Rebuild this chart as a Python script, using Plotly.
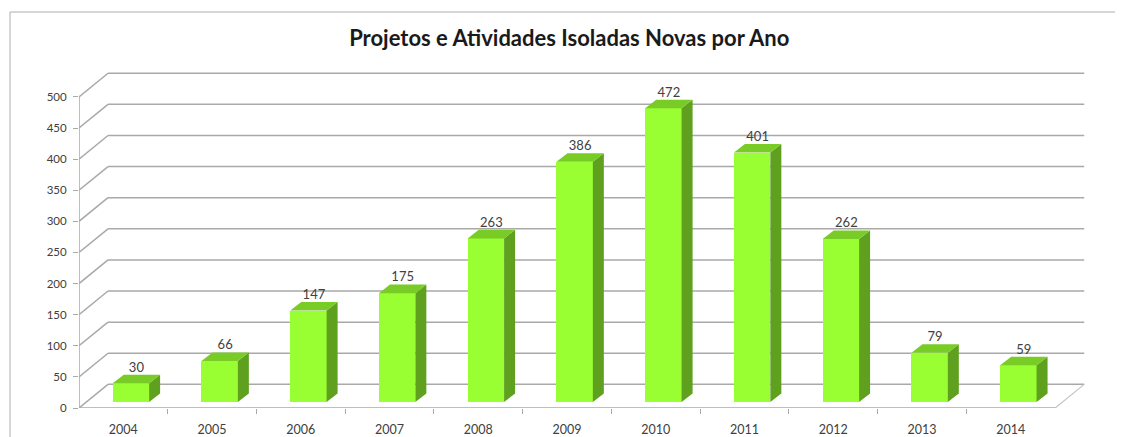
import plotly.graph_objects as go

# ---- data ----
years = ["2004", "2005", "2006", "2007", "2008", "2009", "2010", "2011", "2012", "2013", "2014"]
values = [30, 66, 147, 175, 263, 386, 472, 401, 262, 79, 59]
y_ticks = [0, 50, 100, 150, 200, 250, 300, 350, 400, 450, 500]
title = "Projetos e Atividades Isoladas Novas por Ano"

# ---- 3D-look style parameters (in axis units) ----
DX, DY = 0.327, 38.0          # depth of the floor / walls
BX, BY = 0.085, 9.6           # bar front plane offset inside the depth
SX, SY = 0.124, 13.7          # bar depth (side/top faces)
BW = 0.41                     # bar width
FRONT, SIDE, TOP = "#99FF33", "#5FA11F", "#79CC26"
GRID = "#A9A9A9"
FONT = "Lato"

n = len(years)
xs = list(range(n))
x_left, x_right = -0.5, n - 0.5

fig = go.Figure()

shapes = []
for v in y_ticks:
    shapes.append(dict(type="line", xref="x", yref="y", x0=x_left, y0=v, x1=x_left + DX, y1=v + DY,
                       line=dict(color=GRID, width=1.5), layer="below"))
    shapes.append(dict(type="line", xref="x", yref="y", x0=x_left + DX, y0=v + DY, x1=x_right + DX, y1=v + DY,
                       line=dict(color=GRID, width=1.5), layer="below"))
shapes.append(dict(type="line", xref="x", yref="y", x0=x_left, y0=0, x1=x_right, y1=0,
                   line=dict(color=GRID, width=1.5), layer="below"))
shapes.append(dict(type="line", xref="x", yref="y", x0=x_right, y0=0, x1=x_right + DX, y1=DY,
                   line=dict(color="#C4C4C4", width=1.2), layer="below"))
shapes.append(dict(type="line", xref="x", yref="y", x0=x_left, y0=0, x1=x_left, y1=y_ticks[-1],
                   line=dict(color=GRID, width=1.5), layer="below"))
# outer chart border (top and left)
shapes.append(dict(type="line", xref="paper", yref="paper", x0=-0.0685, y0=1.1786, x1=1.1, y1=1.1786,
                   line=dict(color="#C8C8C8", width=1.5)))
shapes.append(dict(type="line", xref="paper", yref="paper", x0=-0.0685, y0=1.1786, x1=-0.0685, y1=-0.3,
                   line=dict(color="#C8C8C8", width=1.5)))

fig.add_trace(go.Bar(x=[x + BX for x in xs], y=values, base=BY, width=BW,
                     marker=dict(color=FRONT, line=dict(width=0)), hoverinfo="skip", showlegend=False))

side_x, side_y, top_x, top_y = [], [], [], []
for x, v in zip(xs, values):
    x0 = x + BX - BW / 2
    x1 = x + BX + BW / 2
    b = BY
    t = BY + v
    side_x += [x1, x1 + SX, x1 + SX, x1, x1, None]
    side_y += [b, b + SY, t + SY, t, b, None]
    top_x += [x0, x1, x1 + SX, x0 + SX, x0, None]
    top_y += [t, t, t + SY, t + SY, t, None]
fig.add_trace(go.Scatter(x=side_x, y=side_y, mode="lines", fill="toself", fillcolor=SIDE,
                         line=dict(width=0, color=SIDE), hoverinfo="skip", showlegend=False))
fig.add_trace(go.Scatter(x=top_x, y=top_y, mode="lines", fill="toself", fillcolor=TOP,
                         line=dict(width=0, color=TOP), hoverinfo="skip", showlegend=False))

fig.add_trace(go.Scatter(x=[x + BX + SX / 2 for x in xs], y=[BY + v + SY for v in values],
                         mode="text", text=[str(v) for v in values], textposition="top center",
                         textfont=dict(family=FONT, size=13, color="#404040"),
                         hoverinfo="skip", showlegend=False))

fig.update_layout(
    width=1107, height=429,
    margin=dict(l=71, r=29, t=64, b=29, autoexpand=False),
    paper_bgcolor="white", plot_bgcolor="white",
    shapes=shapes,
    title=dict(text="<b>" + title + "</b>", x=0.507, xanchor="center", y=1 - 30 / 429, yanchor="middle",
               font=dict(family=FONT, size=22, color="#1a1a1a")),
    xaxis=dict(range=[x_left, x_right + DX + 0.02], tickmode="array", tickvals=xs, ticktext=years,
               showgrid=False, zeroline=False, showline=False, ticks="", automargin=False,
               ticklabelstandoff=12,
               tickfont=dict(family=FONT, size=12.5, color="#404040"),
               minor=dict(tickmode="array", tickvals=[x + 0.5 for x in xs[:-1]], ticks="outside",
                          ticklen=5, tickcolor=GRID, tickwidth=1.2, showgrid=False),
               fixedrange=True),
    yaxis=dict(range=[0, 540], tickmode="array", tickvals=y_ticks, showgrid=False, zeroline=False,
               showline=False, ticks="outside", ticklen=5, tickcolor=GRID, tickwidth=1.2, automargin=False,
               ticklabelstandoff=4,
               tickfont=dict(family=FONT, size=11.5, color="#404040"), fixedrange=True),
    bargap=0,
)

fig.write_html("out.html")
